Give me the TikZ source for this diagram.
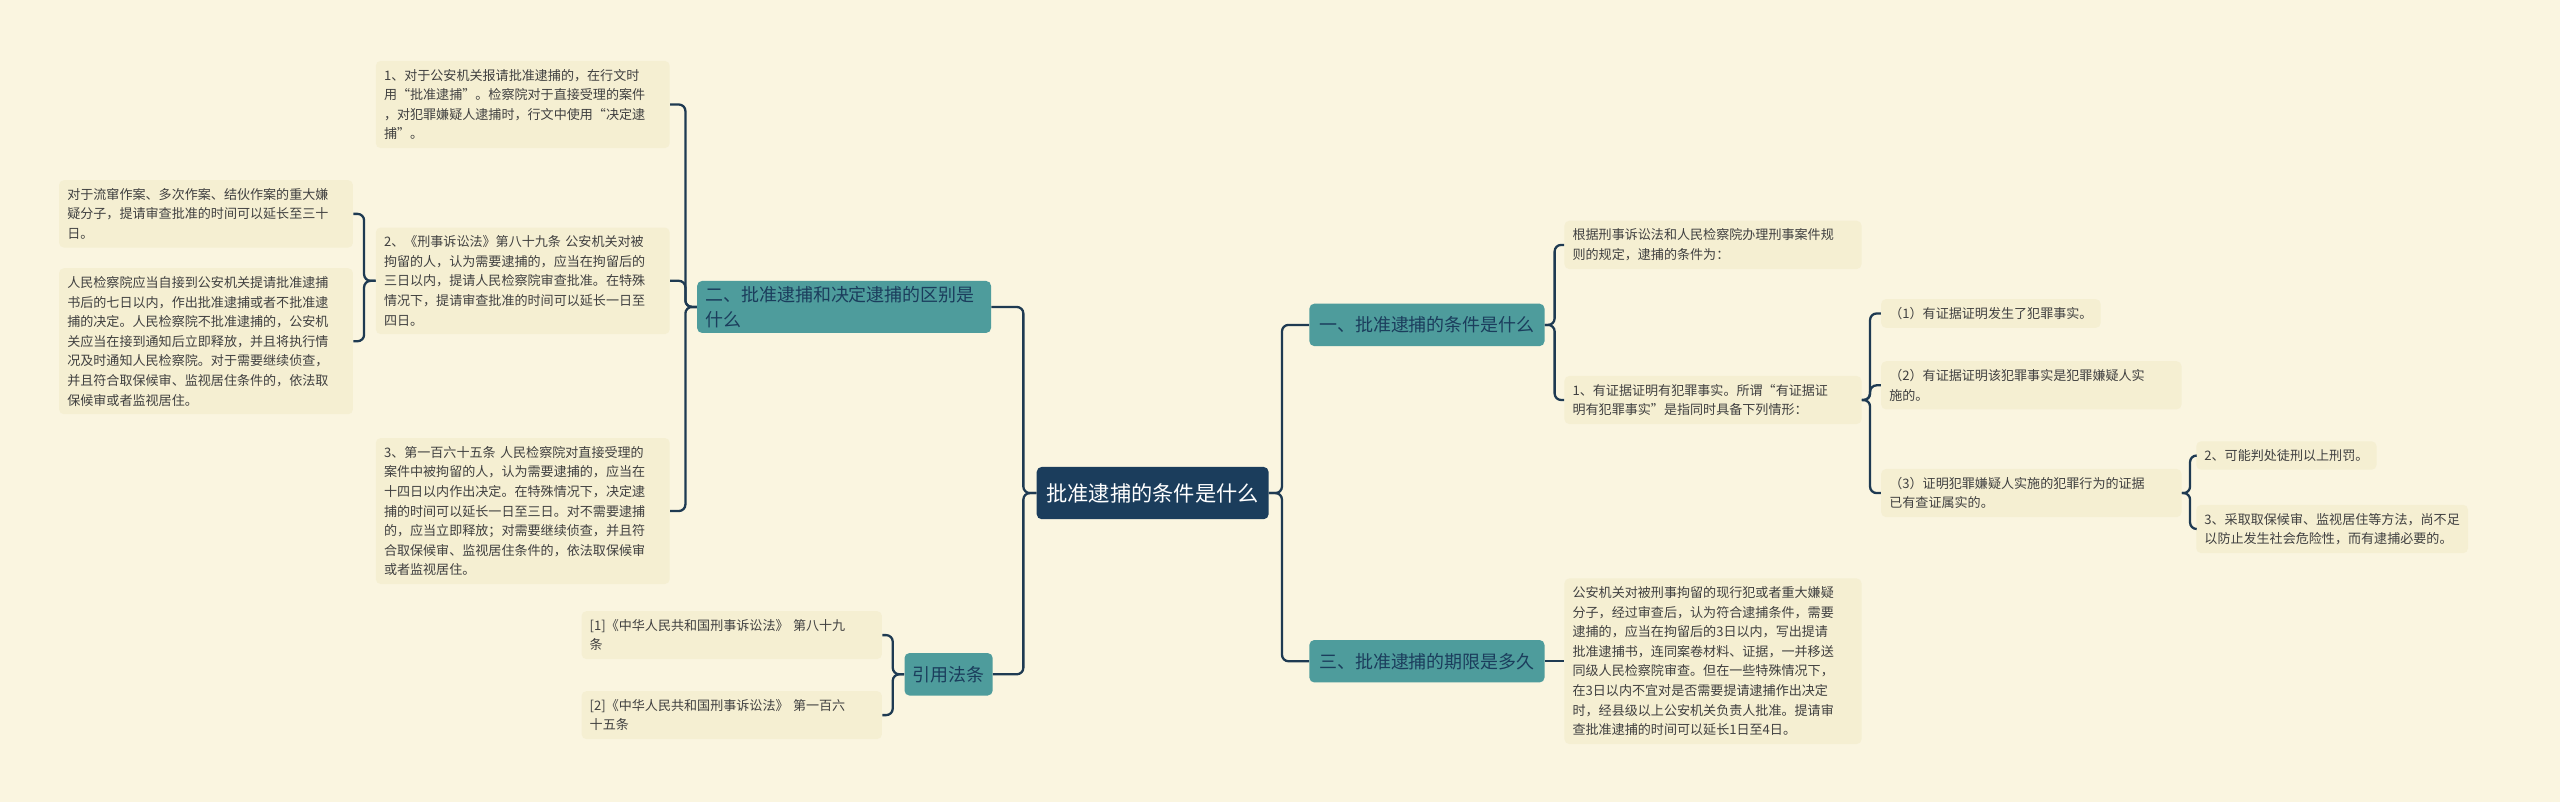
\documentclass[tikz,border=0pt]{standalone}
\usepackage{fontspec}
\newfontfamily\cjk{Noto Sans CJK SC}
\usetikzlibrary{positioning}
\definecolor{paper}{HTML}{FAF5E0}
\definecolor{leafc}{HTML}{F5EFD2}
\definecolor{tealc}{HTML}{4E9C9C}
\definecolor{rootc}{HTML}{1B3D5C}
\definecolor{linec}{HTML}{1E3A52}
\tikzset{
  rootbox/.style={fill=rootc, text=white, rounded corners=3pt, inner xsep=6pt, minimum height=32pt, font=\cjk\fontsize{13}{15}\selectfont},
  branch/.style={fill=tealc, text=rootc, rounded corners=3pt, inner xsep=5pt, minimum height=26pt, align=left, font=\cjk\fontsize{11}{15}\selectfont},
  leaf/.style={fill=leafc, rounded corners=3pt, inner sep=5pt, align=left, anchor=west, text=black!75, font=\cjk\fontsize{8}{12}\selectfont},
  link/.style={draw=linec, line width=1.4pt, rounded corners=4pt}
}
\begin{document}
\begin{tikzpicture}[x=1pt, y=-1pt]
  \fill[paper] (0,0) rectangle (1568,491);
  \useasboundingbox (0,0) rectangle (1568,491);
  % centre and main branches
  \node[rootbox] (root) at (706,302) {批准逮捕的条件是什么};
  \node[branch, minimum width=144pt] (one) at (874,199) {一、批准逮捕的条件是什么};
  \node[branch, minimum width=144pt] (three) at (874,405) {三、批准逮捕的期限是多久};
  \node[branch, text width=170pt] (two) at (517,188) {二、批准逮捕和决定逮捕的区别是\\什么};
  \node[branch] (cite) at (581,413) {引用法条};
  % right side leaves
  \node[leaf, text width=172pt] (basis) at (958,150) {根据刑事诉讼法和人民检察院办理刑事案件规\\则的规定，逮捕的条件为：};
  \node[leaf, text width=172pt] (fact) at (958,245) {1、有证据证明有犯罪事实。所谓“有证据证\\明有犯罪事实”是指同时具备下列情形：};
  \node[leaf] (c1) at (1152,192) {（1）有证据证明发生了犯罪事实。};
  \node[leaf, text width=174pt] (c2) at (1152,236) {（2）有证据证明该犯罪事实是犯罪嫌疑人实\\施的。};
  \node[leaf, text width=174pt] (c3) at (1152,302) {（3）证明犯罪嫌疑人实施的犯罪行为的证据\\已有查证属实的。};
  \node[leaf] (d1) at (1345,279) {2、可能判处徒刑以上刑罚。};
  \node[leaf] (d2) at (1345,324) {3、采取取保候审、监视居住等方法，尚不足\\以防止发生社会危险性，而有逮捕必要的。};
  \node[leaf, text width=172pt] (term) at (958,405) {公安机关对被刑事拘留的现行犯或者重大嫌疑\\分子，经过审查后，认为符合逮捕条件，需要\\逮捕的，应当在拘留后的3日以内，写出提请\\批准逮捕书，连同案卷材料、证据，一并移送\\同级人民检察院审查。但在一些特殊情况下，\\在3日以内不宜对是否需要提请逮捕作出决定\\时，经县级以上公安机关负责人批准。提请审\\查批准逮捕的时间可以延长1日至4日。};
  % left side leaves
  \node[leaf, text width=170pt] (w1) at (230,64) {1、对于公安机关报请批准逮捕的，在行文时\\用“批准逮捕”。检察院对于直接受理的案件\\，对犯罪嫌疑人逮捕时，行文中使用“决定逮\\捕”。};
  \node[leaf, text width=170pt] (w2) at (230,172) {2、《刑事诉讼法》第八十九条 公安机关对被\\拘留的人，认为需要逮捕的，应当在拘留后的\\三日以内，提请人民检察院审查批准。在特殊\\情况下，提请审查批准的时间可以延长一日至\\四日。};
  \node[leaf, text width=170pt] (w3) at (230,313) {3、第一百六十五条 人民检察院对直接受理的\\案件中被拘留的人，认为需要逮捕的，应当在\\十四日以内作出决定。在特殊情况下，决定逮\\捕的时间可以延长一日至三日。对不需要逮捕\\的，应当立即释放；对需要继续侦查，并且符\\合取保候审、监视居住条件的，依法取保候审\\或者监视居住。};
  \node[leaf, text width=170pt] (x1) at (36,131) {对于流窜作案、多次作案、结伙作案的重大嫌\\疑分子，提请审查批准的时间可以延长至三十\\日。};
  \node[leaf, text width=170pt] (x2) at (36,209) {人民检察院应当自接到公安机关提请批准逮捕\\书后的七日以内，作出批准逮捕或者不批准逮\\捕的决定。人民检察院不批准逮捕的，公安机\\关应当在接到通知后立即释放，并且将执行情\\况及时通知人民检察院。对于需要继续侦查，\\并且符合取保候审、监视居住条件的，依法取\\保候审或者监视居住。};
  \node[leaf, text width=174pt] (r1) at (356,389) {[1]《中华人民共和国刑事诉讼法》 第八十九\\条};
  \node[leaf, text width=174pt] (r2) at (356,438) {[2]《中华人民共和国刑事诉讼法》 第一百六\\十五条};
  % connectors
  \foreach \c in {one,three} \draw[link] (root.east) -- ++(8,0) |- (\c.west);
  \foreach \c in {two,cite} \draw[link] (root.west) -- ++(-8,0) |- (\c.east);
  \foreach \c in {basis,fact} \draw[link] (one.east) -- ++(6,0) |- (\c.west);
  \draw[link] (three.east) -- (term.west);
  \foreach \c in {c1,c2,c3} \draw[link] (fact.east) -- ++(5,0) |- (\c.west);
  \foreach \c in {d1,d2} \draw[link] (c3.east) -- ++(5,0) |- (\c.west);
  \foreach \c in {w1,w2,w3} \draw[link] (two.west) -- ++(-7,0) |- (\c.east);
  \foreach \c in {x1,x2} \draw[link] (w2.west) -- ++(-7,0) |- (\c.east);
  \foreach \c in {r1,r2} \draw[link] (cite.west) -- ++(-7,0) |- (\c.east);
\end{tikzpicture}
\end{document}
